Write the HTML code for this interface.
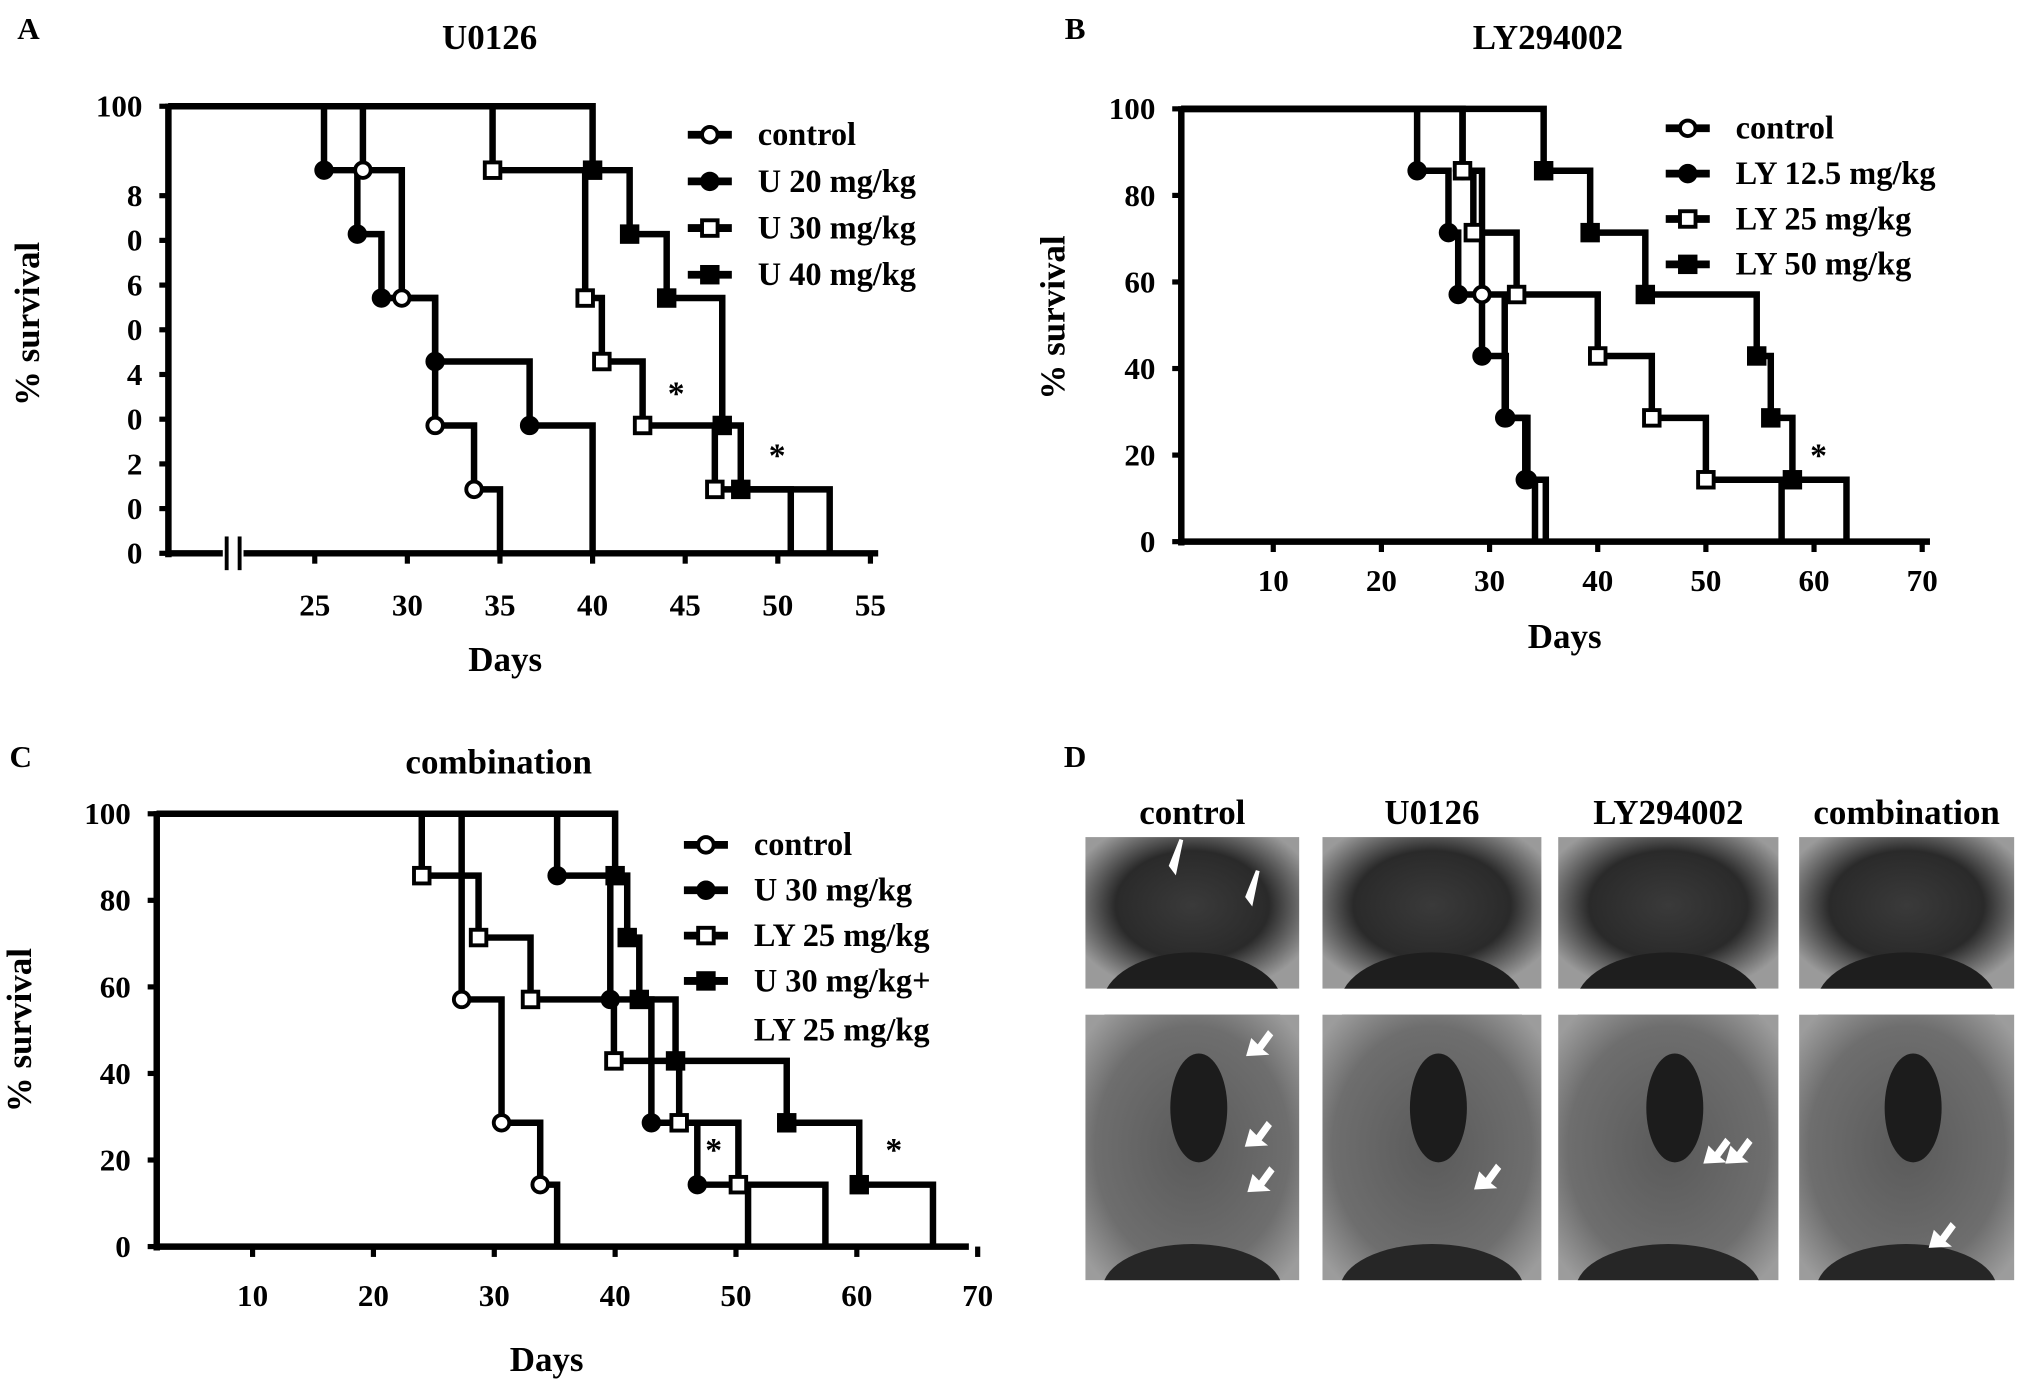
<!DOCTYPE html>
<html><head><meta charset="utf-8"><style>
html,body{margin:0;padding:0;background:#fff;}
svg{display:block;}
text{font-family:"Liberation Serif",serif;font-weight:bold;fill:#000;}
</style></head><body>
<svg id="fig" width="2031" height="1393" viewBox="0 0 1568 1075" preserveAspectRatio="none" xmlns="http://www.w3.org/2000/svg">
<defs>
<radialGradient id="gTop" cx="50%" cy="45%" r="60%"><stop offset="0" stop-color="#3a3a3a"/><stop offset="0.6" stop-color="#2a2a2a"/><stop offset="1" stop-color="#9a9a9a"/></radialGradient>
<radialGradient id="gBot" cx="50%" cy="50%" r="65%"><stop offset="0" stop-color="#5a5a5a"/><stop offset="0.7" stop-color="#6e6e6e"/><stop offset="1" stop-color="#9c9c9c"/></radialGradient>
</defs>
<g id="panels"></g>
</svg>
<script>
// ---- Panel A data (U0126)
const aCtrlDays=[27.6,29.7,31.5,33.6,35];
const aCtrlSurv=[85.7,57.1,28.6,14.3,0];
const aU20Days=[25.5,27.3,28.6,31.5,36.6,40];
const aU20Surv=[85.7,71.4,57.1,42.9,28.6,0];
const aU30Days=[34.6,39.6,40.5,42.7,46.6,50.7];
const aU30Surv=[85.7,57.1,42.9,28.6,14.3,0];
const aU40Days=[40,42,44,47,48,52.8];
const aU40Surv=[85.7,71.4,57.1,28.6,14.3,0];
const aXTicks=[25,30,35,40,45,50,55];
const aYTicks=[100,80,70,60,50,40,30,20,10,0];
const aYLabels=["100","8","0","6","0","4","0","2","0","0"];
// ---- Panel B data (LY294002)
const bCtrlDays=[27.5,29.3,31.4,33.3,34.2];
const bCtrlSurv=[85.7,57.1,28.6,14.3,0];
const bLY12Days=[23.3,26.2,27.1,29.3,31.5,33.5,35.2];
const bLY12Surv=[85.7,71.4,57.1,42.9,28.6,14.3,0];
const bLY25Days=[27.5,28.5,32.5,40,45,50,57];
const bLY25Surv=[85.7,71.4,57.1,42.9,28.6,14.3,0];
const bLY50Days=[35,39.3,44.4,54.7,56,58,63];
const bLY50Surv=[85.7,71.4,57.1,42.9,28.6,14.3,0];
const bXTicks=[10,20,30,40,50,60,70];
const bYTicks=[100,80,60,40,20,0];
// ---- Panel C data (combination)
const cCtrlDays=[27.3,30.6,33.8,35.2];
const cCtrlSurv=[57.1,28.6,14.3,0];
const cU30Days=[35.2,39.6,43,46.8,51];
const cU30Surv=[85.7,57.1,28.6,14.3,0];
const cLY25Days=[24,28.7,33,39.9,45.3,50.2,57.4];
const cLY25Surv=[85.7,71.4,57.1,42.9,28.6,14.3,0];
const cComboDays=[40,41,42,45,54.2,60.2,66.3];
const cComboSurv=[85.7,71.4,57.1,42.9,28.6,14.3,0];
const cXTicks=[10,20,30,40,50,60,70];
const cYTicks=[100,80,60,40,20,0];

const NS="http://www.w3.org/2000/svg";
const root=document.getElementById('panels');
function mk(tag,attrs,parent){const e=document.createElementNS(NS,tag);for(const k in attrs)e.setAttribute(k,attrs[k]);(parent||root).appendChild(e);return e;}
function txt(s,x,y,size,anchor,parent,rot){const t=mk('text',{x:x,y:y,'font-size':size,'text-anchor':anchor||'middle'},parent);if(rot)t.setAttribute('transform','rotate(-90 '+x+' '+y+')');t.textContent=s;return t;}
function marker(type,x,y,parent){
  let m;
  if(type==='oc'||type==='fc') m=mk('circle',{cx:x,cy:y,r:6,fill:type==='oc'?'#fff':'#000',stroke:'#000','stroke-width':3},parent);
  else m=mk('rect',{x:x-6,y:y-6,width:12,height:12,fill:type==='os'?'#fff':'#000',stroke:'#000','stroke-width':3},parent);
  return m;
}
function panel(cfg){
  const g=mk('g',{});
  
  
  const X=d=>cfg.x0+(d-cfg.d0)*cfg.kx, Y=v=>cfg.yb-v*cfg.ky;
  cfg.series.forEach(s=>{
    let p='M'+cfg.axX+' '+Y(100);
    s.days.forEach((d,i)=>{p+=' H'+X(d)+' V'+Y(s.surv[i]);});
    const path=mk('path',{d:p,fill:'none',stroke:'#000','stroke-width':5,'stroke-linejoin':'miter'},g);
    
    
  });
  cfg.series.forEach(s=>{
    s.days.forEach((d,i)=>{ if(s.surv[i]>0){
      const m=marker(s.m,X(d),Y(s.surv[i]),g);
      
      
    }});
  });
  const ya=mk('line',{x1:cfg.axX,y1:Y(100)-2,x2:cfg.axX,y2:cfg.yb+3,stroke:'#000','stroke-width':5},g);
  
  
  const xa=mk('line',{x1:cfg.axX-2,y1:cfg.yb,x2:cfg.axEnd,y2:cfg.yb,stroke:'#000','stroke-width':5},g);
  
  
  cfg.yTicks.forEach((v,i)=>{
    mk('line',{x1:cfg.axX-7,y1:Y(v),x2:cfg.axX,y2:Y(v),stroke:'#000','stroke-width':4},g);
    const t=txt(cfg.yLabels?cfg.yLabels[i]:String(v),cfg.axX-20,Y(v)+8,24,'end',g);
    
    
  });
  cfg.xTicks.forEach(d=>{
    mk('line',{x1:X(d),y1:cfg.yb,x2:X(d),y2:cfg.yb+8,stroke:'#000','stroke-width':4},g);
    const t=txt(String(d),X(d),cfg.yb+cfg.xLabOff,24,'middle',g);
    
    
  });
  cfg.series.forEach((s,i)=>{
    const ly=cfg.legY+i*cfg.legDy;
    mk('line',{x1:cfg.legX-17,y1:ly,x2:cfg.legX+17,y2:ly,stroke:'#000','stroke-width':6},g);
    marker(s.m,cfg.legX,ly,g);
    const t=txt(s.label,cfg.legX+37,ly+8,25,'start',g);
    
    
  });
  return {g,X,Y};
}
const pa=panel({name:'panel-a-chart',x0:243,d0:25,kx:14.3,yb:427,ky:3.45,axX:130,axEnd:678,xLabOff:48,
  xTicks:aXTicks,yTicks:aYTicks,yLabels:aYLabels,legX:548,legY:104,legDy:36,
  series:[{id:'control',label:'control',m:'oc',days:aCtrlDays,surv:aCtrlSurv},
          {id:'u20',label:'U 20 mg/kg',m:'fc',days:aU20Days,surv:aU20Surv},
          {id:'u30',label:'U 30 mg/kg',m:'os',days:aU30Days,surv:aU30Surv},
          {id:'u40',label:'U 40 mg/kg',m:'fs',days:aU40Days,surv:aU40Surv}]});
mk('rect',{x:172,y:414,width:16,height:26,fill:'#fff'},pa.g);
mk('line',{x1:175,y1:414,x2:175,y2:440,stroke:'#000','stroke-width':3},pa.g);
mk('line',{x1:185,y1:414,x2:185,y2:440,stroke:'#000','stroke-width':3},pa.g);
const pb=panel({name:'panel-b-chart',x0:983,d0:10,kx:8.35,yb:418,ky:3.34,axX:912,axEnd:1490,xLabOff:38,
  xTicks:bXTicks,yTicks:bYTicks,legX:1303,legY:99,legDy:35,
  series:[{id:'control',label:'control',m:'oc',days:bCtrlDays,surv:bCtrlSurv},
          {id:'ly12',label:'LY 12.5 mg/kg',m:'fc',days:bLY12Days,surv:bLY12Surv},
          {id:'ly25',label:'LY 25 mg/kg',m:'os',days:bLY25Days,surv:bLY25Surv},
          {id:'ly50',label:'LY 50 mg/kg',m:'fs',days:bLY50Days,surv:bLY50Surv}]});
const pc=panel({name:'panel-c-chart',x0:381.6,d0:30,kx:9.33,yb:962,ky:3.34,axX:121,axEnd:748,xLabOff:46,
  xTicks:cXTicks,yTicks:cYTicks,legX:545,legY:652,legDy:35,
  series:[{id:'control',label:'control',m:'oc',days:cCtrlDays,surv:cCtrlSurv},
          {id:'u30',label:'U 30 mg/kg',m:'fc',days:cU30Days,surv:cU30Surv},
          {id:'ly25',label:'LY 25 mg/kg',m:'os',days:cLY25Days,surv:cLY25Surv},
          {id:'combo',label:'U 30 mg/kg+',m:'fs',days:cComboDays,surv:cComboSurv}]});
txt('LY 25 mg/kg',582,803,25,'start',pc.g);

[['A',22,30,'panel-a-letter'],['B',830,30,'panel-b-letter'],['C',16,592,'panel-c-letter'],['D',830,592,'panel-d-letter']].forEach(a=>{const t=txt(a[0],a[1],a[2],24,'middle');});
[['U0126',378,38],['LY294002',1195,38],['combination',385,597]].forEach(a=>{const t=txt(a[0],a[1],a[2],27,'middle');});
[[30,250],[822,245],[24,795]].forEach(a=>{const t=txt('% survival',a[0],a[1],27,'middle',null,true);});
[[390,518],[1208,500],[422,1058]].forEach(a=>{const t=txt('Days',a[0],a[1],27,'middle');});
[[522,312],[600,360],[1404,360],[551,896],[690,896]].forEach(a=>{const t=txt('*',a[0],a[1],26,'middle');});

const dCols=[[838,1003,'control'],[1021,1190,'U0126'],[1203,1373,'LY294002'],[1389,1555,'combination']];
const dg=mk('g',{});


dCols.forEach((c,i)=>{
  const cx=(c[0]+c[1])/2,w=c[1]-c[0];
  const t=txt(c[2],cx,636,27,'middle',dg);
  
  
  const r1=mk('rect',{x:c[0],y:646,width:w,height:117,fill:'url(#gTop)'},dg);
  
  
  mk('ellipse',{cx:cx,cy:775,rx:w*0.42,ry:40,fill:'#1e1e1e'},dg);
  const r2=mk('rect',{x:c[0],y:783,width:w,height:205,fill:'url(#gBot)'},dg);
  
  
  mk('ellipse',{cx:cx+5,cy:855,rx:22,ry:42,fill:'#1c1c1c'},dg);
  mk('ellipse',{cx:cx,cy:995,rx:w*0.42,ry:35,fill:'#262626'},dg);
});
mk('rect',{x:830,y:763,width:740,height:20,fill:'#fff'},dg);
mk('rect',{x:830,y:988,width:740,height:60,fill:'#fff'},dg);
const arrows=[[962,815],[961,885],[963,920],[1138,918],[1332,898],[1315,898],[1489,963]];
arrows.forEach(a=>{const p=mk('polygon',{points:`${a[0]},${a[1]} ${a[0]+4},${a[1]-14} ${a[0]+9},${a[1]-9} ${a[0]+17},${a[1]-20} ${a[0]+21},${a[1]-16} ${a[0]+13},${a[1]-5} ${a[0]+18},${a[1]-1}`,fill:'#fff'},dg);});
[[904,668],[963,692]].forEach(a=>{mk('polygon',{points:`${a[0]},${a[1]} ${a[0]+8},${a[1]-20} ${a[0]+3},${a[1]+4}`,fill:'#fff',stroke:'#fff','stroke-width':3},dg);});
</script>
</body></html>
